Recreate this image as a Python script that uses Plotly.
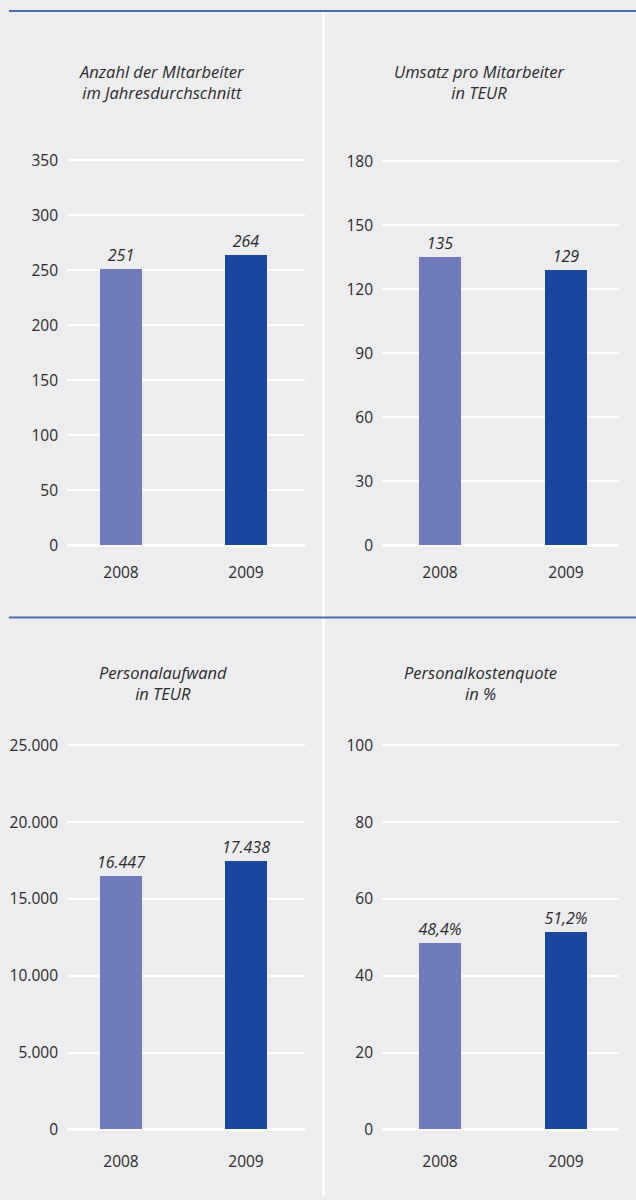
import plotly.graph_objects as go

W, H = 636, 1200

years = ["2008", "2009"]
mitarbeiter = [251, 264]
umsatz = [135, 129]
personalaufwand = [16447, 17438]
kostenquote = [48.4, 51.2]

titles = [
    "Anzahl der MItarbeiter<br>im Jahresdurchschnitt",
    "Umsatz pro Mitarbeiter<br>in TEUR",
    "Personalaufwand<br>in TEUR",
    "Personalkostenquote<br>in %",
]
ticks1 = [0, 50, 100, 150, 200, 250, 300, 350]
ticks2 = [0, 30, 60, 90, 120, 150, 180]
ticks3 = [0, 5000, 10000, 15000, 20000, 25000]
ticks4 = [0, 20, 40, 60, 80, 100]

LIGHT = "#717bba"
DARK = "#19479b"
BG = "#ededef"
TXT = "#2b2b2b"
FONT = "Open Sans"

panels = [
    dict(vals=mitarbeiter, ticks=ticks1, fmt="%{y:,}", gx=(67, 305), cx=(121, 246), yz=546, yt=159, title_x=162, title_y=80, xs=10),
    dict(vals=umsatz, ticks=ticks2, fmt="%{y:,}", gx=(382, 619), cx=(440, 566), yz=546, yt=160, title_x=480, title_y=80, xs=10),
    dict(vals=personalaufwand, ticks=ticks3, fmt="%{y:,}", gx=(67, 305), cx=(121, 246), yz=1133, yt=747, title_x=163, title_y=684, xs=15),
    dict(vals=kostenquote, ticks=ticks4, fmt="%{y:.1f}%", gx=(382, 619), cx=(440, 566), yz=1133, yt=747, title_x=480, title_y=684, xs=15),
]

fig = go.Figure()
layout = {}
annotations = []
for i, p in enumerate(panels):
    n = "" if i == 0 else str(i + 1)
    xa, ya = "x" + n, "y" + n
    vmax = p["ticks"][-1]
    k = (p["yz"] - p["yt"]) / vmax
    pad_b, pad_t = 6, 10
    y_lo = -pad_b / k
    y_hi = vmax + pad_t / k
    dom_y = [1 - (p["yz"] + pad_b) / H, 1 - (p["yt"] - pad_t) / H]
    ppu = p["cx"][1] - p["cx"][0]
    x_lo = (p["gx"][0] - p["cx"][0]) / ppu
    x_hi = (p["gx"][1] - p["cx"][0]) / ppu
    dom_x = [p["gx"][0] / W, p["gx"][1] / W]
    fig.add_trace(go.Bar(
        x=[0, 1], y=p["vals"], xaxis=xa, yaxis=ya,
        marker=dict(color=[LIGHT, DARK], line=dict(width=0)),
        width=42 / ppu,
        texttemplate=p["fmt"], textposition="outside", constraintext="none",
        textfont=dict(family=FONT, size=16, color=TXT, style="italic"),
        cliponaxis=False, showlegend=False, hoverinfo="skip",
    ))
    layout["xaxis" + n] = dict(
        domain=dom_x, range=[x_lo, x_hi], anchor=ya,
        tickvals=[0, 1], ticktext=years, showgrid=False, zeroline=False,
        showline=False, ticks="", ticklabelstandoff=p["xs"],
        tickfont=dict(family=FONT, size=15.5, color=TXT), fixedrange=True,
    )
    layout["yaxis" + n] = dict(
        domain=dom_y, range=[y_lo, y_hi], anchor=xa,
        tickvals=p["ticks"], tickformat=",", showgrid=True,
        gridcolor="white", gridwidth=2, zeroline=True, zerolinecolor="white",
        zerolinewidth=3, showline=False, ticks="", ticklabelstandoff=8,
        tickfont=dict(family=FONT, size=15.5, color=TXT), fixedrange=True,
    )
    annotations.append(dict(
        x=p["title_x"] / W, y=1 - p["title_y"] / H, xref="paper", yref="paper",
        text="<i>" + titles[i] + "</i>", showarrow=False, xanchor="center",
        yanchor="middle", align="center",
        font=dict(family=FONT, size=16.5, color=TXT),
    ))

shapes = [
    dict(type="line", xref="paper", yref="paper", x0=323.5 / W, x1=323.5 / W,
         y0=1 - 10 / H, y1=0, line=dict(color="white", width=3), layer="below"),
    dict(type="line", xref="paper", yref="paper", x0=9 / W, x1=1,
         y0=1 - 9 / H, y1=1 - 9 / H, line=dict(color="#4a6cb3", width=2)),
    dict(type="line", xref="paper", yref="paper", x0=9 / W, x1=1,
         y0=1 - 618.5 / H, y1=1 - 618.5 / H, line=dict(color="#4a6cb3", width=2)),
]

fig.update_layout(
    width=W, height=H, margin=dict(l=0, r=0, t=0, b=0),
    paper_bgcolor=BG, plot_bgcolor=BG, separators=",.",
    font=dict(family=FONT, color=TXT), annotations=annotations, shapes=shapes,
    bargap=0, **layout,
)
fig.write_html(
    "out.html",
    config={"displayModeBar": False},
    post_script="document.body.style.margin='0';document.body.style.background='" + BG + "';",
)
